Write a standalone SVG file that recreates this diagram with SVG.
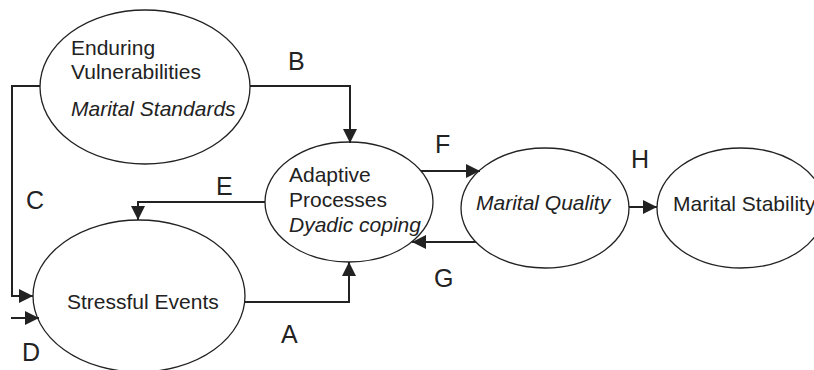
<svg xmlns="http://www.w3.org/2000/svg" width="814" height="370" viewBox="0 0 814 370">
<style>
.n{fill:#fff;stroke:#222;stroke-width:1.3}
.t{font-family:"Liberation Sans",Arial,sans-serif;font-size:21px;fill:#222}
.i{font-style:italic}
.l{font-family:"Liberation Sans",Arial,sans-serif;font-size:25px;fill:#222}
.e{fill:none;stroke:#222;stroke-width:2;marker-end:url(#ah)}
</style>
<defs>
<marker id="ah" markerUnits="userSpaceOnUse" markerWidth="14" markerHeight="14" refX="14" refY="7" orient="auto">
<path d="M0,0 L14,7 L0,14 z" fill="#222"/>
</marker>
</defs>
<rect width="814" height="370" fill="#fff"/>
<g id="enduring">
<ellipse class="n" cx="145" cy="87" rx="105" ry="77"/>
<text class="t" x="71" y="55">Enduring</text>
<text class="t" x="71" y="79">Vulnerabilities</text>
<text class="t i" x="71" y="116">Marital Standards</text>
</g>
<g id="adaptive">
<ellipse class="n" cx="349" cy="202" rx="84" ry="60"/>
<text class="t" x="289" y="182">Adaptive</text>
<text class="t" x="289" y="207">Processes</text>
<text class="t i" x="289" y="232">Dyadic coping</text>
</g>
<g id="stressful">
<ellipse class="n" cx="139" cy="296" rx="106" ry="76"/>
<text class="t" x="67" y="309">Stressful Events</text>
</g>
<g id="quality">
<ellipse class="n" cx="545" cy="208" rx="84" ry="60"/>
<text class="t i" x="476" y="210">Marital Quality</text>
</g>
<g id="stability">
<ellipse class="n" cx="741" cy="208" rx="84" ry="60"/>
<text class="t" x="673" y="211">Marital Stability</text>
</g>
<g id="connectors">
<path class="e" d="M250,86 H350 V143"/>
<path class="e" d="M40,86 H12 V296 H33"/>
<path class="e" d="M11,318 H39"/>
<path class="e" d="M265,202 H138 V220"/>
<path class="e" d="M244,302 H349 V262"/>
<path class="e" d="M421,171 H480"/>
<path class="e" d="M476,242 H412"/>
<path class="e" d="M629,207 H657"/>
<text class="l" x="288" y="70">B</text>
<text class="l" x="26" y="209">C</text>
<text class="l" x="216" y="195">E</text>
<text class="l" x="22" y="361">D</text>
<text class="l" x="281" y="343">A</text>
<text class="l" x="435" y="153">F</text>
<text class="l" x="434" y="287">G</text>
<text class="l" x="631" y="168">H</text>
</g>
</svg>
